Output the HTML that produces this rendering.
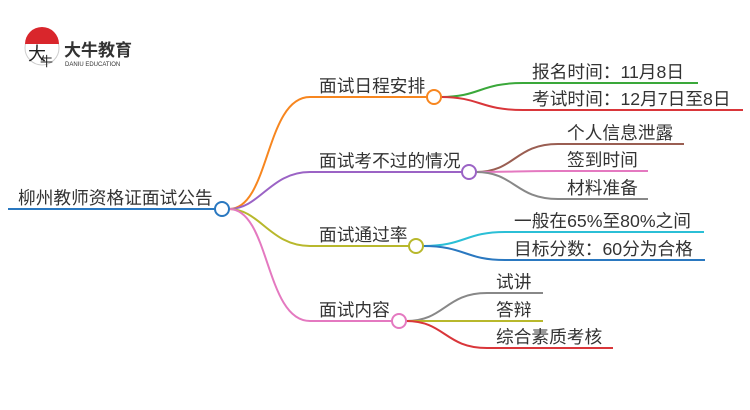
<!DOCTYPE html>
<html><head><meta charset="utf-8"><style>
html,body{margin:0;padding:0;background:#fff;width:750px;height:410px;overflow:hidden}
text{font-family:"Liberation Sans","Noto Sans CJK SC",sans-serif;fill:#333;font-size:17.7px}
</style></head><body>
<svg width="750" height="410" viewBox="0 0 750 410" xmlns="http://www.w3.org/2000/svg">
<circle cx="42" cy="48" r="17" fill="#fff" stroke="#ccc" stroke-width="1"/>
<path d="M25,44 A17,17 0 0 1 59,44 Z" fill="#d9262c"/>
<text x="28" y="60" style="font-size:18px;fill:#222">大</text>
<text x="40" y="66" style="font-size:13px;fill:#222">牛</text>
<text x="64" y="56" style="font-size:17px;font-weight:bold;fill:#333">大牛教育</text>
<text x="65" y="66" style="font-size:6px;fill:#333">DANIU EDUCATION</text>
<g fill="none" stroke-width="2">
<path d="M8,209 H215" stroke="#2a78c0"/>
<path d="M229,209 C270,209 265,97 310,97 H427" stroke="#f7861f"/>
<path d="M229,209 C260,209 270,172 310,172 H462" stroke="#9b63c5"/>
<path d="M229,209 C260,209 270,246 310,246 H409" stroke="#b8b82c"/>
<path d="M229,209 C270,209 265,321 310,321 H392" stroke="#e479c0"/>
<path d="M441,97 C480,97 480,83 523,83 H698" stroke="#3aa83a"/>
<path d="M441,97 C480,97 480,110 523,110 H743" stroke="#d9363a"/>
<path d="M476,172 C515,172 515,144 558,144 H684" stroke="#9a5e52"/>
<path d="M476,172 C515,172 515,171 558,171 H648" stroke="#e479c0"/>
<path d="M476,172 C515,172 515,199 558,199 H648" stroke="#888"/>
<path d="M423,246 C465,246 465,232 505,232 H704" stroke="#2bbfd6"/>
<path d="M423,246 C465,246 465,260 505,260 H705" stroke="#2a78c0"/>
<path d="M406,321 C445,321 445,293 487,293 H543" stroke="#888"/>
<path d="M406,321 H543" stroke="#b8b82c"/>
<path d="M406,321 C445,321 445,348 487,348 H613" stroke="#d9363a"/>
<circle cx="222" cy="209" r="7" fill="#fff" stroke="#2a78c0"/>
<circle cx="434" cy="97" r="7" fill="#fff" stroke="#f7861f"/>
<circle cx="469" cy="172" r="7" fill="#fff" stroke="#9b63c5"/>
<circle cx="416" cy="246" r="7" fill="#fff" stroke="#b8b82c"/>
<circle cx="399" cy="321" r="7" fill="#fff" stroke="#e479c0"/>
</g>
<text x="18" y="204">柳州教师资格证面试公告</text>
<text x="319" y="92">面试日程安排</text>
<text x="319" y="167">面试考不过的情况</text>
<text x="319" y="241">面试通过率</text>
<text x="319" y="316">面试内容</text>
<text x="532" y="78">报名时间：11月8日</text>
<text x="532" y="105">考试时间：12月7日至8日</text>
<text x="567" y="139">个人信息泄露</text>
<text x="567" y="166">签到时间</text>
<text x="567" y="194">材料准备</text>
<text x="514" y="227">一般在65%至80%之间</text>
<text x="514" y="255">目标分数：60分为合格</text>
<text x="496" y="288">试讲</text>
<text x="496" y="316">答辩</text>
<text x="496" y="343">综合素质考核</text>
</svg>
</body></html>
